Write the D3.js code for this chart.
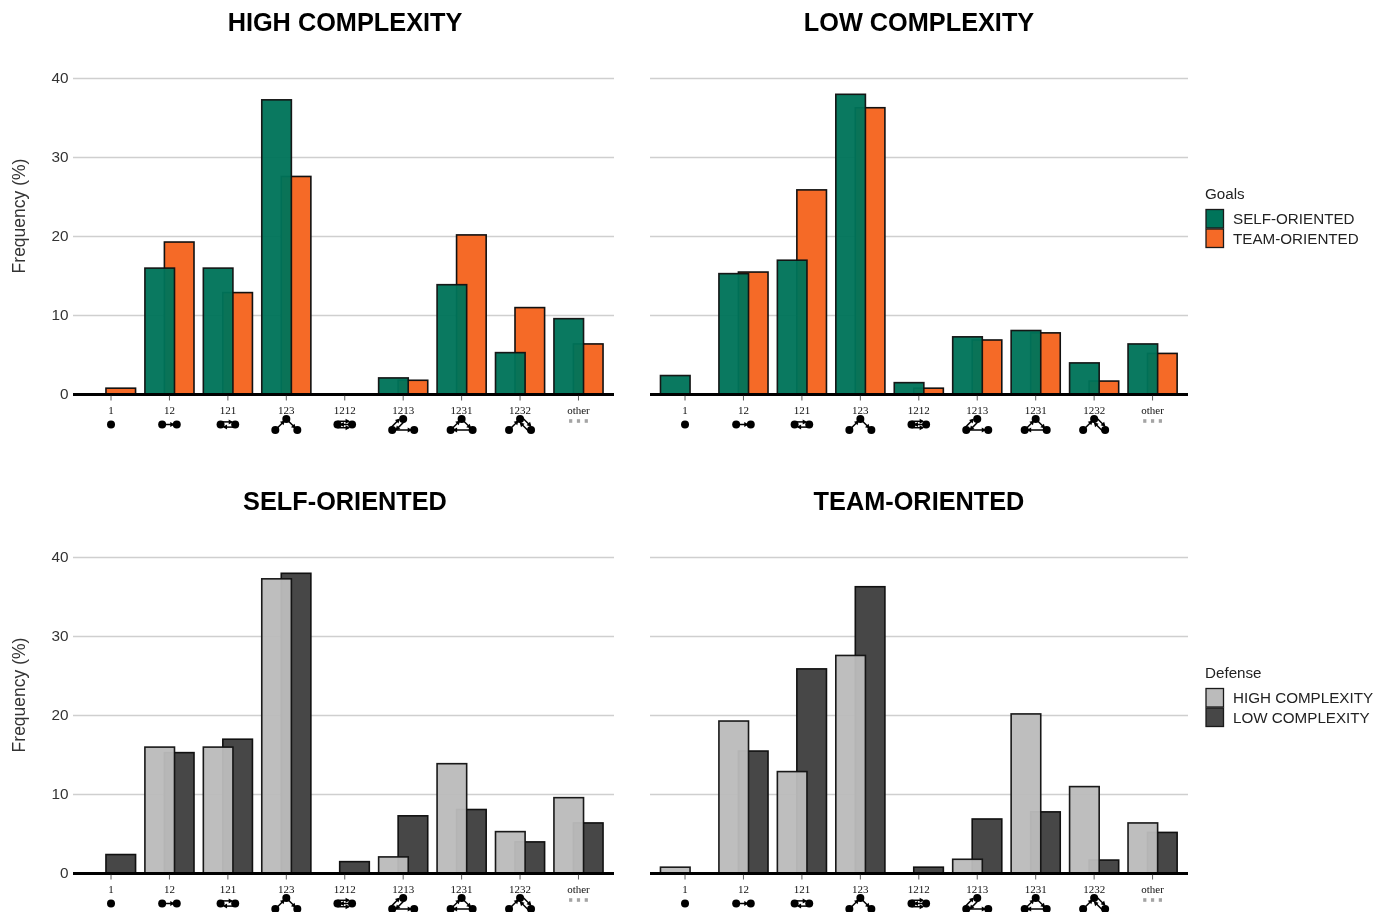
<!DOCTYPE html>
<html><head><meta charset="utf-8">
<script src="https://cdn.jsdelivr.net/npm/d3@7"></script>
<style>html,body{margin:0;background:#fff}svg{display:block}text{font-family:"Liberation Sans",Arial,sans-serif}#root{filter:blur(0.35px)}</style>
</head><body><svg id="c" width="1387" height="912"><g id="root"></g></svg>
<script>
const motifs = ["1","12","121","123","1212","1213","1231","1232","other"];
const highSelf = [0,16,16,37.3,0,2.1,13.9,5.3,9.6];
const highTeam = [0.8,19.3,12.9,27.6,0,1.8,20.2,11,6.4];
const lowSelf  = [2.4,15.3,17,38,1.5,7.3,8.1,4,6.4];
const lowTeam  = [0,15.5,25.9,36.3,0.8,6.9,7.8,1.7,5.2];
const yTicks = [0,10,20,30,40];
const GREEN="#00745a", ORANGE="#f56a27", LIGHT="#bbbbbb", DARK="#474747";

const panels = [
 {title:"HIGH COMPLEXITY",a:highSelf,b:highTeam,ca:GREEN,cb:ORANGE,x0:73,x1:614,y0:394,yl:true,tx:345,ty:31},
 {title:"LOW COMPLEXITY",a:lowSelf,b:lowTeam,ca:GREEN,cb:ORANGE,x0:650,x1:1188,y0:394,yl:false,tx:919,ty:31},
 {title:"SELF-ORIENTED",a:highSelf,b:lowSelf,ca:LIGHT,cb:DARK,x0:73,x1:614,y0:873,yl:true,tx:345,ty:510},
 {title:"TEAM-ORIENTED",a:highTeam,b:lowTeam,ca:LIGHT,cb:DARK,x0:650,x1:1188,y0:873,yl:false,tx:919,ty:510}
];
const svg=d3.select("#root");

// motif glyph geometry: nodes and edges in glyph-local pixels
const TRI=[[-11,5.5],[0,-5.5],[11,5.5]], PAIR=[[-7.3,0],[7.3,0]];
const glyphs={
 "1":{n:[[0,0]],e:[]},
 "12":{n:PAIR,e:[[0,1]]},
 "121":{n:PAIR,e:[[0,1,-2.6],[1,0,-2.6]]},
 "123":{n:TRI,e:[[0,1],[1,2]]},
 "1212":{n:PAIR,e:[[0,1,-3.2],[1,0,0],[0,1,3.2]]},
 "1213":{n:TRI,e:[[0,1,-2.6],[1,0,-2.6],[0,2]]},
 "1231":{n:TRI,e:[[0,1],[1,2],[2,0]]},
 "1232":{n:TRI,e:[[0,1],[1,2,-2.6],[2,1,-2.6]]}
};
function drawGlyph(g,name){
 if(name==="other"){
  [-7.8,0,7.8].forEach(d=>g.append("rect").attr("x",d-1.6).attr("y",-5.3).attr("width",3.2).attr("height",3.6).attr("fill","#a4a4a4"));
  return;
 }
 const G=glyphs[name];
 G.e.forEach(([i,j,o=0])=>{
  const [ax,ay]=G.n[i],[bx,by]=G.n[j];
  const L=Math.hypot(bx-ax,by-ay),ux=(bx-ax)/L,uy=(by-ay)/L,px=-uy*o,py=ux*o;
  const ex=bx-ux*3.5+px,ey=by-uy*3.5+py;
  g.append("line").attr("x1",ax+px).attr("y1",ay+py).attr("x2",ex).attr("y2",ey).attr("stroke","#000").attr("stroke-width",1.5);
  g.append("path").attr("d",`M${ex+ux*1.5},${ey+uy*1.5}L${ex-ux*3-uy*2.5},${ey-uy*3+ux*2.5}L${ex-ux*3+uy*2.5},${ey-uy*3-ux*2.5}Z`).attr("fill","#000");
 });
 G.n.forEach(([x,y])=>g.append("circle").attr("cx",x).attr("cy",y).attr("r",4).attr("fill","#000"));
}

panels.forEach(p=>{
 const g=svg.append("g");
 const x=d3.scaleBand().domain(motifs).range([p.x0===73?81.8:655.8,p.x0===73?607.7:1181.8]).padding(0);
 const y=d3.scaleLinear().domain([0,40]).range([p.y0+0.5,p.y0-315.5]);
 g.selectAll("line.g").data(yTicks.slice(1)).join("line")
  .attr("x1",p.x0).attr("x2",p.x1).attr("y1",d=>y(d)).attr("y2",d=>y(d))
  .attr("stroke","#cfcfcf").attr("stroke-width",1.6);
 const barW=29.6, off=9.75;
 const drawBars=(vals,c,sign,op)=>{
  g.selectAll(null).data(motifs.map((m,i)=>({m,v:vals[i]})).filter(d=>d.v>0)).join("rect")
   .attr("x",d=>x(d.m)+x.bandwidth()/2+sign*off-barW/2)
   .attr("width",barW).attr("y",d=>y(d.v)).attr("height",d=>y(0)-y(d.v))
   .attr("fill",c).attr("fill-opacity",op).attr("stroke","#111").attr("stroke-opacity",op).attr("stroke-width",1.6);
 };
 drawBars(p.b,p.cb,1,1);
 drawBars(p.a,p.ca,-1,0.96);
 g.append("line").attr("x1",p.x0).attr("x2",p.x1).attr("y1",y(0)).attr("y2",y(0)).attr("stroke","#000").attr("stroke-width",3);
 const ax=g.append("g").attr("transform",`translate(0,${y(0)+1})`).call(d3.axisBottom(x).tickSize(5).tickPadding(5.5));
 ax.select(".domain").remove();
 ax.selectAll("line").attr("stroke","#333").attr("stroke-width",0.8);
 ax.selectAll("text").attr("font-size",11).style("font-family",'"Liberation Serif",serif').attr("fill","#111");
 motifs.forEach(m=>{
  drawGlyph(g.append("g").attr("transform",`translate(${x(m)+x.bandwidth()/2},${p.y0+30.5})`),m);
 });
 const ya=g.append("g").attr("transform",`translate(${p.x0},0)`);
 if(p.yl){
  yTicks.forEach(t=>ya.append("text").attr("x",-4.5).attr("y",y(t)+4.8).attr("text-anchor","end").attr("font-size",15.3).attr("fill","#333").text(t));
  g.append("text").attr("transform",`translate(25,${p.y0-178}) rotate(-90)`).attr("text-anchor","middle").attr("font-size",17.5).attr("fill","#333").text("Frequency (%)");
 }
 g.append("text").attr("x",p.tx).attr("y",p.ty).attr("text-anchor","middle").attr("font-size",25.3).attr("font-weight","bold").attr("fill","#000").text(p.title);
});

const legends=[
 {t:"Goals",y:198.5,items:["SELF-ORIENTED","TEAM-ORIENTED"],c:[GREEN,ORANGE]},
 {t:"Defense",y:677.5,items:["HIGH COMPLEXITY","LOW COMPLEXITY"],c:[LIGHT,DARK]}
];
legends.forEach(l=>{
 const g=svg.append("g");
 g.append("text").attr("x",1205).attr("y",l.y).attr("font-size",15.2).attr("fill","#222").text(l.t);
 l.items.forEach((s,i)=>{
  const yy=l.y+11+i*19.5;
  g.append("rect").attr("x",1206).attr("y",yy).attr("width",17.5).attr("height",18.5).attr("fill",l.c[i]).attr("stroke","#1a1a1a").attr("stroke-width",1.3);
  g.append("text").attr("x",1233).attr("y",yy+14.5).attr("font-size",15.2).attr("fill","#222").text(s);
 });
});
</script></body></html>
